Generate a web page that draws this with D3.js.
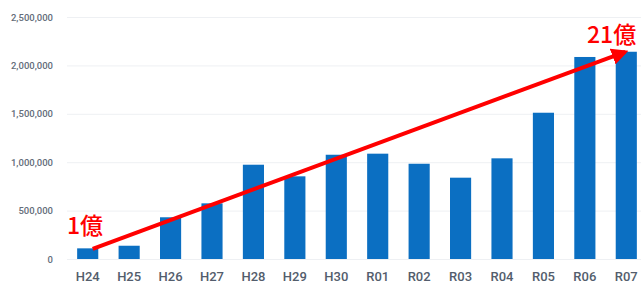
<!DOCTYPE html>
<html>
<head>
<meta charset="utf-8">
<script src="https://cdn.jsdelivr.net/npm/d3@7"></script>
<style>
  body { margin: 0; background: #fff; }
  svg { display: block; }
</style>
</head>
<body>
<svg id="svg" width="643" height="286"></svg>
<script>
// data
const years = ['H24','H25','H26','H27','H28','H29','H30','R01','R02','R03','R04','R05','R06','R07'];
const amounts = [110000, 137000, 431000, 575000, 974000, 854000, 1077000, 1088000, 984000, 840000, 1040000, 1511000, 2087000, 2141000];
const yTicks = [0, 500000, 1000000, 1500000, 2000000, 2500000];
const arrowFrom = { year: 'H24', value: 105000 };
const arrowTo = { year: 'R07', value: 2140000 };
const labelStart = '1億';
const labelEnd = '21億';

const svg = d3.select('#svg');

const x = d3.scaleBand().domain(years).range([67, 647]).paddingInner(0.49).paddingOuter(0.245);
const y = d3.scaleLinear().domain([0, 2500000]).range([259, 17]);

// grid + y labels
const yAxis = d3.axisLeft(y)
  .tickValues(yTicks)
  .tickSize(-(641 - 67))
  .tickFormat(d3.format(','));
const gy = svg.append('g')
  .attr('transform', 'translate(67,0)')
  .call(yAxis);
gy.select('.domain').remove();
gy.selectAll('.tick line').attr('stroke', '#eef0f3').attr('stroke-width', 1);
gy.selectAll('.tick text')
  .attr('x', -14)
  .attr('fill', '#646d7a')
  .style('font-family', 'Roboto, "Noto Sans", sans-serif')
  .style('font-size', '9.5px')
  .style('font-weight', '500');

// bars
svg.selectAll('.bar').data(years).enter()
  .append('rect')
  .attr('class', 'bar')
  .attr('x', d => x(d))
  .attr('width', x.bandwidth())
  .attr('y', (d, i) => y(amounts[i]))
  .attr('height', (d, i) => y(0) - y(amounts[i]))
  .attr('fill', '#0b6fc2');

// x labels
const xAxis = d3.axisBottom(x).tickSize(0).tickPadding(0);
const gx = svg.append('g')
  .attr('transform', 'translate(0,272)')
  .call(xAxis);
gx.select('.domain').remove();
gx.selectAll('.tick text')
  .attr('fill', '#535d6c')
  .attr('dy', '0.71em')
  .style('font-family', 'Roboto, "Noto Sans", sans-serif')
  .style('font-size', '13px')
  .style('font-weight', '500');

// arrow
svg.append('defs').append('marker')
  .attr('id', 'head')
  .attr('viewBox', '0 0 10 10')
  .attr('refX', 8).attr('refY', 5)
  .attr('markerWidth', 4.2).attr('markerHeight', 4.2)
  .attr('orient', 'auto')
  .append('path')
  .attr('d', 'M0,0 L10,5 L0,10 Z')
  .attr('fill', '#ff0000');

const ax1 = x(arrowFrom.year) + x.bandwidth() / 2 + 5;
const ay1 = y(arrowFrom.value);
const ax2 = x(arrowTo.year) + x.bandwidth() / 2 - 1;
const ay2 = y(arrowTo.value);
svg.append('line')
  .attr('x1', ax1).attr('y1', ay1)
  .attr('x2', ax2).attr('y2', ay2)
  .attr('stroke', '#ff0000')
  .attr('stroke-width', 4)
  .attr('marker-end', 'url(#head)');

// labels
svg.append('text')
  .attr('x', 67).attr('y', 234)
  .attr('fill', '#ff0000')
  .style('font-family', '"Noto Sans CJK JP", sans-serif')
  .style('font-size', '23px')
  .style('font-weight', '500')
  .text(labelStart);
svg.append('text')
  .attr('x', 587).attr('y', 43)
  .attr('fill', '#ff0000')
  .style('font-family', '"Noto Sans CJK JP", sans-serif')
  .style('font-size', '23px')
  .style('font-weight', '500')
  .text(labelEnd);
</script>
</body>
</html>
